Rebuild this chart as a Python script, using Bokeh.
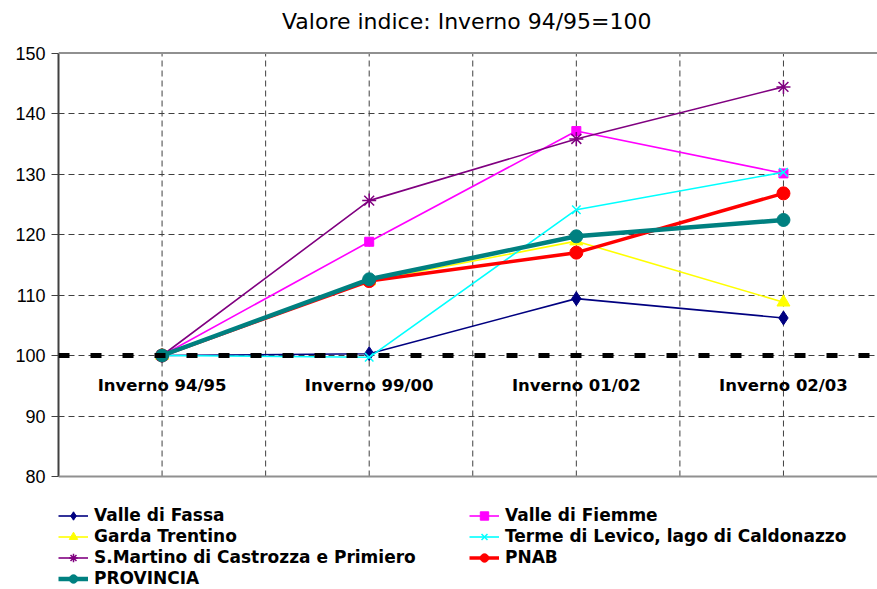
from bokeh.plotting import figure
from bokeh.models import Range1d, FixedTicker, Span, Legend, LegendItem
from bokeh.core.properties import value
from bokeh.embed import file_html
from bokeh.resources import INLINE

title = "Valore indice: Inverno 94/95=100"
categories = ["Inverno 94/95", "Inverno 99/00", "Inverno 01/02", "Inverno 02/03"]
valle_di_fassa = [100, 100.3, 109.4, 106.2]
valle_di_fiemme = [100, 118.8, 137.1, 130.1]
garda_trentino = [100, 112.3, 118.9, 108.8]
terme_di_levico = [100, 99.7, 124.1, 130.3]
s_martino = [100, 125.6, 135.8, 144.4]
pnab = [100, 112.3, 117.0, 126.8]
provincia = [100, 112.6, 119.7, 122.4]
y_ticks = [80, 90, 100, 110, 120, 130, 140, 150]

xs = list(range(len(categories)))
y_lo, y_hi = y_ticks[0], y_ticks[-1]
px_per_unit = (476 - 52.5) / (y_hi - y_lo)

# frame covers the whole figure right of the y axis; the plot area is 80..150
p = figure(width=877, height=589, output_backend="svg", toolbar_location=None,
           x_range=Range1d(-0.5, 3.454),
           y_range=Range1d(y_lo - (589 - 476) / px_per_unit, y_hi + 52.5 / px_per_unit),
           min_border_left=58, min_border_right=0, min_border_top=0, min_border_bottom=0)
p.outline_line_color = None
p.background_fill_color = "white"
p.border_fill_color = "white"
p.xaxis.visible = False

# horizontal grid
p.ygrid.ticker = FixedTicker(ticks=y_ticks)
p.ygrid.grid_line_color = "#404040"
p.ygrid.grid_line_dash = "6 4"
p.ygrid.grid_line_width = 1
p.xgrid.grid_line_color = None

# vertical grid lines (category centres and midpoints), bounded to the plot area
grid_x = [i * 0.5 for i in range(2 * len(categories))]
p.segment(x0=grid_x, x1=grid_x, y0=[y_lo] * len(grid_x), y1=[y_hi] * len(grid_x),
          line_color="#404040", line_dash="6 4", line_width=1)

# y axis
p.yaxis.ticker = FixedTicker(ticks=y_ticks)
p.yaxis.bounds = (y_lo, y_hi)
p.yaxis.axis_line_color = "#404040"
p.yaxis.axis_line_width = 2
p.yaxis.major_tick_line_color = "#404040"
p.yaxis.major_tick_out = 7
p.yaxis.major_tick_in = 0
p.yaxis.minor_tick_line_color = None
p.yaxis.major_label_text_font = "Liberation Sans"
p.yaxis.major_label_text_font_size = "18px"
p.yaxis.major_label_text_color = "black"
p.yaxis.major_label_standoff = 6

# top and bottom borders of the plot area
p.add_layout(Span(location=y_hi, dimension="width", line_color="#909090", line_width=2))
p.add_layout(Span(location=y_lo, dimension="width", line_color="#909090", line_width=2))
# reference line at 100
p.add_layout(Span(location=100, dimension="width", line_color="black", line_width=5, line_dash="11 21"))

# title
p.text(x=[1.471], y=[y_hi + (52.5 - 20.5) / px_per_unit], text=[title], text_align="center",
       text_baseline="alphabetic", text_font=value("DejaVu Sans"), text_font_size="22px",
       text_color="black")

# category labels inside the plot
p.text(x=xs, y=[95.1] * len(xs), text=categories, text_align="center", text_baseline="alphabetic",
       text_font=value("DejaVu Sans"), text_font_style="bold", text_font_size="16.5px", text_color="black")

series = [
    ("Valle di Fassa", valle_di_fassa, "#000080", 1.6, "diamond", 14),
    ("Valle di Fiemme", valle_di_fiemme, "#FF00FF", 1.6, "square", 9),
    ("Garda Trentino", garda_trentino, "#FFFF00", 1.6, "triangle", 13),
    ("Terme di Levico, lago di Caldonazzo", terme_di_levico, "#00FFFF", 1.6, "x", 12),
    ("S.Martino di Castrozza e Primiero", s_martino, "#800080", 1.6, "asterisk", 14),
    ("PNAB", pnab, "#FF0000", 3.5, "circle", 13),
    ("PROVINCIA", provincia, "#008080", 4.5, "circle", 13),
]

items = {}
for name, ys, color, lw, marker, size in series:
    l = p.line(xs, ys, line_color=color, line_width=lw)
    s = p.scatter(xs, ys, marker=marker, size=size, fill_color=color, line_color=color,
                  line_width=1.5 if marker in ("x", "asterisk") else 1)
    items[name] = LegendItem(label=name, renderers=[l, s])

order = ["Valle di Fassa", "Garda Trentino", "S.Martino di Castrozza e Primiero", "PROVINCIA",
         "Valle di Fiemme", "Terme di Levico, lago di Caldonazzo", "PNAB"]
legend = Legend(items=[items[n] for n in order], nrows=4, location=(0, 0.5),
                orientation="vertical", padding=0, margin=0, spacing=0,
                glyph_width=30, glyph_height=21, label_height=21, label_width=375,
                label_standoff=6, border_line_color=None, background_fill_alpha=0,
                label_text_font="DejaVu Sans", label_text_font_style="bold",
                label_text_font_size="17px", label_text_color="black")
p.add_layout(legend, "center")

open("out.html", "w").write(file_html(p, INLINE))
